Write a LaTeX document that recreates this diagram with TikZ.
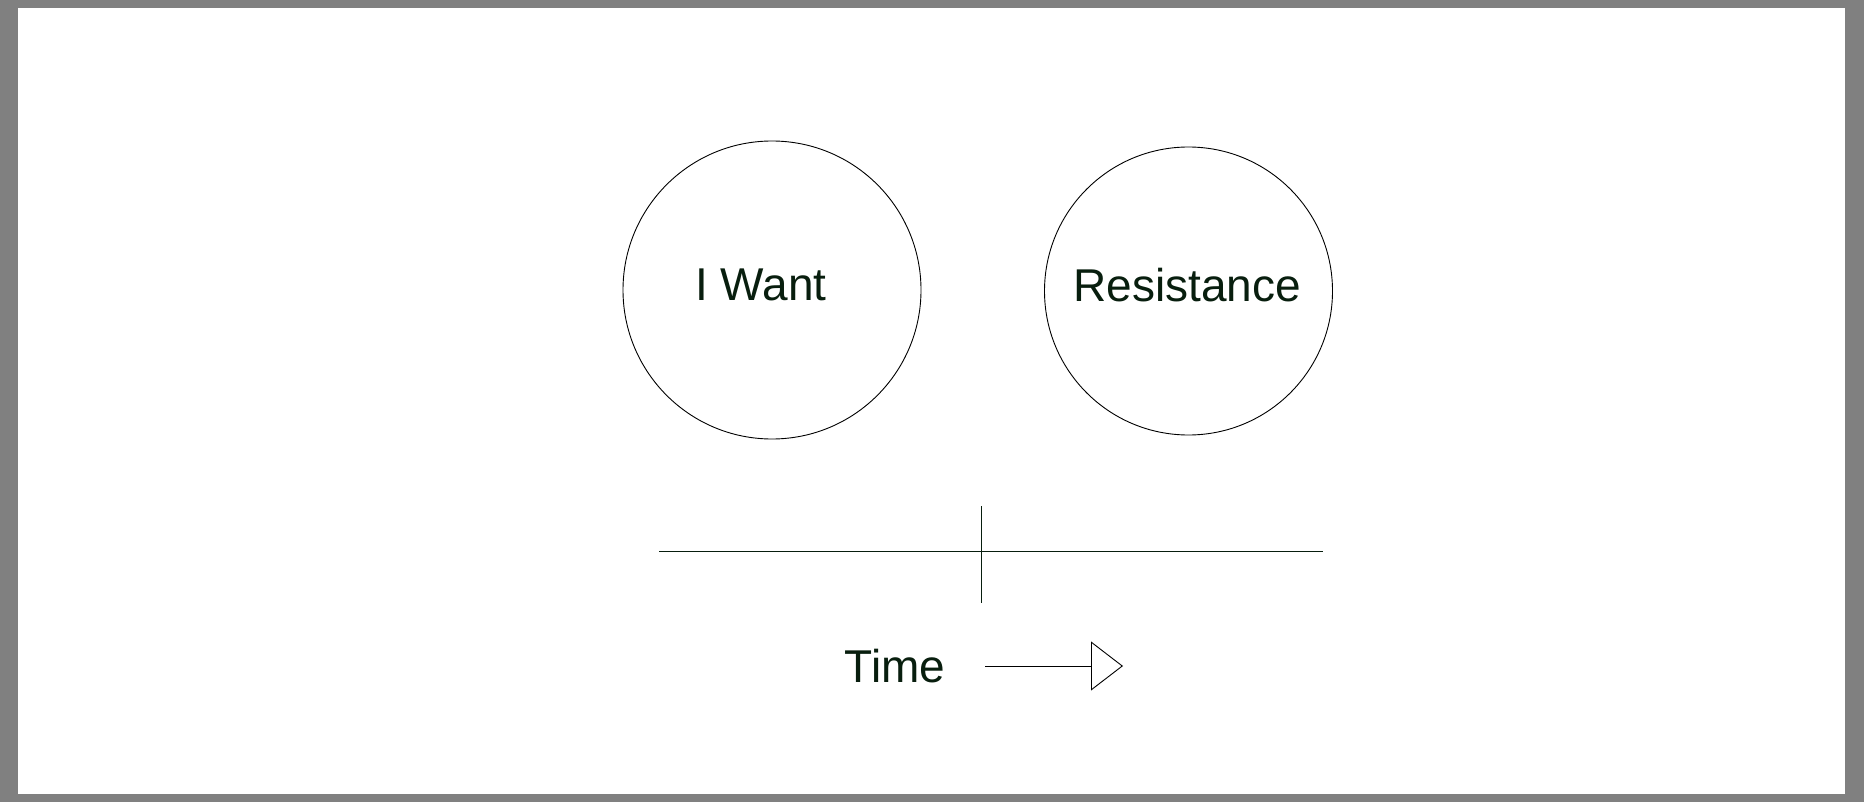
\documentclass[tikz,border=0pt]{standalone}
\usepackage{fontspec}
\setmainfont{Liberation Sans}
\usetikzlibrary{arrows.meta}
\definecolor{frame}{RGB}{128,128,128}
\definecolor{ink}{RGB}{8,30,14}
\tikzset{
  bubble/.style={circle, draw=black, line width=0.45pt, inner sep=0pt},
  label/.style={inner sep=0pt, anchor=base, text=ink, font=\fontsize{23pt}{27pt}\selectfont},
  axis/.style={draw=ink, line width=0.7pt},
  timearrow/.style={draw=black, line width=0.45pt, -{Triangle[open, length=16pt, width=24.5pt, line width=0.45pt]}}
}
\begin{document}
\begin{tikzpicture}[x=0.5pt, y=-0.5pt]
  \fill[frame] (0,0) rectangle (1864,802);
  \fill[white] (18,8) rectangle (1845,794);
  \useasboundingbox (0,0) rectangle (1864,802);
  % circles
  \node[bubble, minimum size=149pt] (want) at (772,290) {};
  \node[bubble, minimum size=144pt] (resist) at (1188.5,291) {};
  \node[label] (wanttext) at (761,300) {I Want};
  \node[label] (resisttext) at (1187,302) {Resistance};
  % timeline
  \coordinate (tl) at (659,551.5);
  \coordinate (tr) at (1323,551.5);
  \coordinate (tt) at (981.5,506);
  \coordinate (tb) at (981.5,603);
  \draw[axis] (tl) -- (tr);
  \draw[axis] (tt) -- (tb);
  % time label and arrow
  \node[label] (timetext) at (895,682) {Time};
  \coordinate (a0) at (985,666);
  \coordinate (a1) at (1123,666);
  \draw[timearrow] (a0) -- (a1);
\end{tikzpicture}
\end{document}
